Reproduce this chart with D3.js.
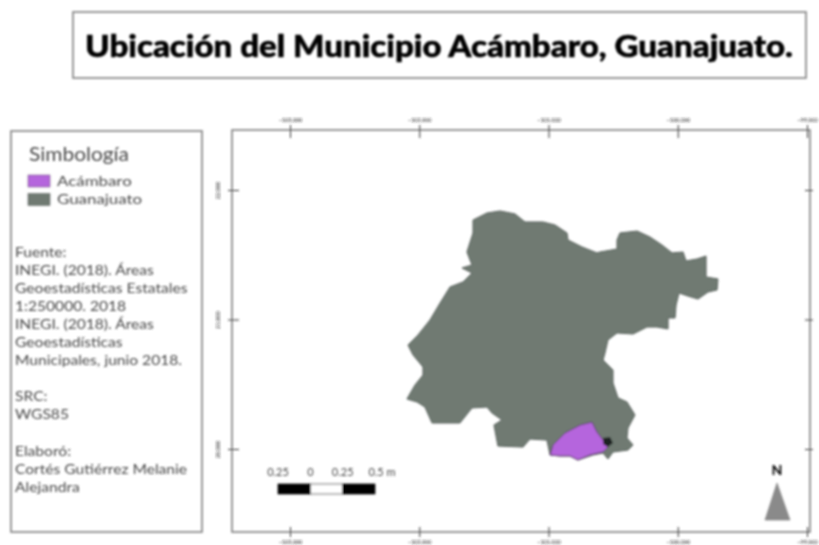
<!DOCTYPE html>
<html>
<head>
<meta charset="utf-8">
<script src="https://cdn.jsdelivr.net/npm/d3@7"></script>
<style>
  html, body { margin: 0; padding: 0; background: #fff; }
  svg { display: block; }
  text { font-family: Lato, "Open Sans", sans-serif; }
</style>
</head>
<body>
<script>
const titleText = 'Ubicación del Municipio Acámbaro, Guanajuato.';
const legendTitle = 'Simbología';
const legendNames = ['Acámbaro', 'Guanajuato'];
const legendColors = ['#b565dd', '#6f7a72'];
const infoLines = [
    'Fuente:', 'INEGI. (2018). Áreas', 'Geoestadísticas Estatales', '1:250000. 2018',
    'INEGI. (2018). Áreas', 'Geoestadísticas', 'Municipales, junio 2018.', '',
    'SRC:', 'WGS85', '',
    'Elaboró:', 'Cortés Gutiérrez Melanie', 'Alejandra'
];

const lonTicks = [-103, -102, -101, -100, -99];
const latTicks = [20, 21, 22];
const scaleValues = [-0.25, 0, 0.25, 0.5];
const scaleLabels = ['0.25', '0', '0.25', '0.5 m'];

// lon, lat
const guanajuato = [
    [-101.584, 21.768], [-101.476, 21.822], [-101.375, 21.838], [-101.259, 21.815],
    [-101.182, 21.753], [-101.043, 21.753], [-100.950, 21.730], [-100.857, 21.668],
    [-100.849, 21.614], [-100.741, 21.560], [-100.625, 21.514], [-100.602, 21.521],
    [-100.470, 21.544], [-100.470, 21.614], [-100.447, 21.668], [-100.315, 21.683],
    [-100.215, 21.637], [-100.122, 21.575], [-100.044, 21.514], [-99.959, 21.521],
    [-99.936, 21.452], [-99.851, 21.467], [-99.781, 21.490], [-99.781, 21.328],
    [-99.689, 21.313], [-99.696, 21.228], [-99.766, 21.212], [-99.843, 21.158],
    [-99.921, 21.181], [-99.990, 21.205], [-100.013, 21.112], [-100.021, 21.012],
    [-100.075, 21.012], [-100.075, 20.927], [-100.161, 20.942], [-100.238, 20.942],
    [-100.346, 20.888], [-100.470, 20.896], [-100.540, 20.842], [-100.563, 20.741],
    [-100.578, 20.687], [-100.501, 20.610], [-100.501, 20.510], [-100.462, 20.394],
    [-100.393, 20.363], [-100.331, 20.263], [-100.385, 20.162], [-100.393, 20.085],
    [-100.346, 20.031], [-100.385, 19.992], [-100.501, 19.977], [-100.540, 19.923],
    [-100.578, 19.969], [-100.656, 19.954], [-100.772, 19.915], [-100.834, 19.946],
    [-100.911, 19.946], [-100.988, 19.954], [-100.996, 19.992], [-101.012, 20.069],
    [-101.143, 20.077], [-101.197, 20.015], [-101.391, 20.023], [-101.422, 20.185],
    [-101.360, 20.224], [-101.437, 20.278], [-101.476, 20.324], [-101.592, 20.317],
    [-101.685, 20.201], [-101.824, 20.201], [-101.901, 20.201], [-101.956, 20.324],
    [-102.017, 20.363], [-102.095, 20.386], [-102.033, 20.494], [-101.971, 20.571],
    [-101.971, 20.633], [-102.048, 20.726], [-102.087, 20.803], [-102.010, 20.880],
    [-101.917, 20.996], [-101.839, 21.127], [-101.762, 21.251], [-101.661, 21.290],
    [-101.592, 21.359], [-101.669, 21.398], [-101.592, 21.421], [-101.631, 21.521],
    [-101.584, 21.668]
];
const acambaro = [
    [-100.663, 20.208], [-100.756, 20.185], [-100.872, 20.124], [-100.965, 20.031],
    [-100.988, 19.954], [-100.911, 19.946], [-100.834, 19.946], [-100.772, 19.915],
    [-100.679, 19.954], [-100.578, 19.977], [-100.540, 20.015], [-100.578, 20.069],
    [-100.625, 20.131]
];
const darkPatch = [
    [-100.578, 20.085], [-100.524, 20.093], [-100.501, 20.046], [-100.540, 20.015], [-100.578, 20.039]
];

const W = 819, H = 545;
const frameLine = '#7f7f7f';
const textColor = '#484848';

const svg = d3.select('body').append('svg').attr('width', W).attr('height', H);
const defs = svg.append('defs');
defs.append('filter').attr('id', 'soft')
    .attr('filterUnits', 'userSpaceOnUse')
    .attr('x', 0).attr('y', 0).attr('width', W).attr('height', H)
    .append('feGaussianBlur').attr('stdDeviation', 0.8);

svg.append('rect').attr('width', W).attr('height', H).attr('fill', '#fff');
const root = svg.append('g').attr('filter', 'url(#soft)');

function box(x, y, w, h) {
    root.append('rect')
        .attr('x', x).attr('y', y).attr('width', w).attr('height', h)
        .attr('fill', 'none').attr('stroke', frameLine).attr('stroke-width', 1.6);
}

// the original font is wider than anything installed, so stretch lines
function widen(sel, k) {
    sel.attr('textLength', sel.node().getComputedTextLength() * k)
        .attr('lengthAdjust', 'spacingAndGlyphs');
    return sel;
}

// title
box(73, 12, 733, 66);
root.append('text')
    .attr('x', 85).attr('y', 57)
    .attr('font-size', 30).attr('font-weight', 900).attr('fill', '#000')
    .attr('stroke', '#000').attr('stroke-width', 0.5)
    .attr('textLength', 708).attr('lengthAdjust', 'spacingAndGlyphs')
    .text(titleText);

// legend panel
box(11, 131, 191, 401);
widen(root.append('text').attr('x', 29).attr('y', 161).attr('font-size', 19).attr('fill', textColor).text(legendTitle), 1.1);
legendNames.forEach((name, i) => {
    root.append('rect')
        .attr('x', 28).attr('y', 175 + i * 18.5).attr('width', 22).attr('height', 12)
        .attr('fill', legendColors[i]).attr('stroke', '#555').attr('stroke-width', 0.5);
    widen(root.append('text')
        .attr('x', 57).attr('y', 186 + i * 18)
        .attr('font-size', 13.5).attr('fill', textColor).text(name), 1.25);
});
infoLines.forEach((line, i) => {
    if (!line) return;
    widen(root.append('text')
        .attr('x', 15).attr('y', 257 + i * 18.05)
        .attr('font-size', 13).attr('fill', textColor).text(line), 1.2);
});

// map frame + graticule ticks
const x = d3.scaleLinear().domain([-103, -99]).range([290, 807]);
const y = d3.scaleLinear().domain([20, 22]).range([449, 190]);
const frame = { left: 232, right: 810, top: 130, bottom: 532 };
box(frame.left, frame.top, frame.right - frame.left, frame.bottom - frame.top);

const fmt = d => d3.format('.3f')(d);

function styleAxis(g) {
    g.select('.domain').remove();
    g.selectAll('.tick line').attr('stroke', '#333').attr('stroke-width', 1);
    g.selectAll('.tick text').attr('font-size', 5.5).attr('fill', '#222').attr('font-family', 'Lato');
}

root.append('g').attr('transform', `translate(0,${frame.top})`)
    .call(d3.axisTop(x).tickValues(lonTicks).tickFormat(fmt).tickSize(5).tickPadding(3))
    .call(styleAxis)
    .call(g => g.selectAll('.tick line').attr('y2', 8).attr('y1', -5));

root.append('g').attr('transform', `translate(0,${frame.bottom})`)
    .call(d3.axisBottom(x).tickValues(lonTicks).tickFormat(fmt).tickSize(5).tickPadding(3))
    .call(styleAxis)
    .call(g => g.selectAll('.tick line').attr('y1', -5).attr('y2', 5));

root.append('g').attr('transform', `translate(${frame.left},0)`)
    .call(d3.axisLeft(y).tickValues(latTicks).tickFormat(fmt).tickSize(5).tickPadding(3))
    .call(styleAxis)
    .call(g => g.selectAll('.tick line').attr('x1', 7).attr('x2', -4))
    .call(g => g.selectAll('.tick text')
        .attr('text-anchor', 'middle').attr('x', 0).attr('dy', 0)
        .attr('transform', 'translate(-12,0) rotate(-90)'));

root.append('g').attr('transform', `translate(${frame.right},0)`)
    .call(d3.axisRight(y).tickValues(latTicks).tickFormat('').tickSize(5))
    .call(styleAxis)
    .call(g => g.selectAll('.tick line').attr('x1', -5).attr('x2', 3));

// polygons
const outline = d3.line().x(d => x(d[0])).y(d => y(d[1])).curve(d3.curveLinearClosed);
root.append('path').attr('d', outline(guanajuato))
    .attr('fill', legendColors[1]).attr('stroke', '#565e59').attr('stroke-width', 1);
root.append('path').attr('d', outline(acambaro))
    .attr('fill', legendColors[0]).attr('stroke', '#5c4468').attr('stroke-width', 1);
root.append('path').attr('d', outline(darkPatch))
    .attr('fill', '#1d2420').attr('stroke', 'none');

// scale bar
const sb = d3.scaleLinear().domain([-0.25, 0.5]).range([278, 375]);
d3.pairs(scaleValues).forEach((pair, i) => {
    root.append('rect')
        .attr('x', sb(pair[0])).attr('y', 484)
        .attr('width', sb(pair[1]) - sb(pair[0])).attr('height', 10)
        .attr('fill', i % 2 === 0 ? '#000' : '#fff')
        .attr('stroke', '#000').attr('stroke-width', 0.7);
});
scaleValues.forEach((v, i) => {
    root.append('text')
        .attr('x', sb(v) + (i === 3 ? 7 : 0)).attr('y', 476)
        .attr('text-anchor', 'middle').attr('font-size', 11).attr('fill', textColor)
        .text(scaleLabels[i]);
});

// north arrow
root.append('path').attr('d', 'M777,483 L790,520 L765,520 Z').attr('fill', '#8a8a8a').attr('stroke', '#777').attr('stroke-width', 0.6);
root.append('text')
    .attr('x', 777).attr('y', 475).attr('text-anchor', 'middle')
    .attr('font-size', 14).attr('font-weight', 900).attr('fill', '#111').text('N');
</script>
</body>
</html>
